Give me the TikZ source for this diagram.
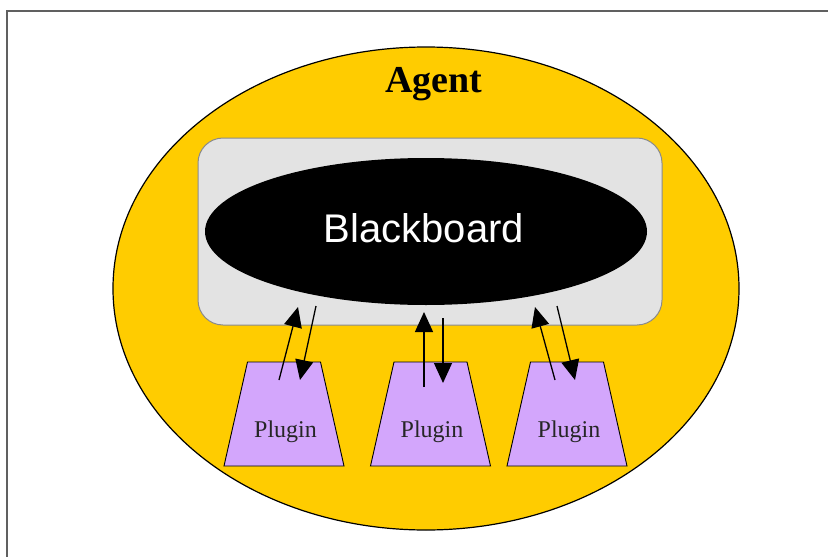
\documentclass[tikz,border=0pt]{standalone}
\usepackage{fontspec}
\setmainfont{Liberation Serif}
\newfontfamily\arialf{Liberation Sans}
\usetikzlibrary{shapes.geometric,arrows.meta}
\definecolor{agentyellow}{HTML}{FFCC00}
\definecolor{boardgray}{HTML}{E3E3E3}
\definecolor{boardedge}{HTML}{8A8A8A}
\definecolor{pluginviolet}{HTML}{D3A6FC}
\definecolor{framegray}{HTML}{606060}
\tikzset{
  pluginshape/.style={fill=pluginviolet, draw=black, line width=0.9pt},
  plugintext/.style={anchor=base, font=\fontsize{24}{28}\selectfont, text=black!85},
  flow/.style={line width=1.3pt, -{Triangle[length=20pt,width=18pt]}},
  pics/plugin/.style={code={
    \path[pluginshape] (-60,52) -- (-36.5,-52) -- (36.5,-52) -- (60,52) -- cycle;
  }}
}
\begin{document}
\begin{tikzpicture}[x=1pt,y=-1pt]
\useasboundingbox (0,0) rectangle (828,557);
\fill[white] (0,0) rectangle (828,557);
\draw[framegray, line width=1.5pt] (7,557) -- (7,11) -- (828,11);
% agent
\node[ellipse, minimum width=626pt, minimum height=483pt, fill=agentyellow, draw=black, line width=1.2pt, inner sep=0pt] (agent) at (426,288.5) {};
\node[anchor=base, font=\bfseries\fontsize{38}{44}\selectfont] (agentlbl) at (434,92) {Agent};
% blackboard area
\node[rectangle, rounded corners=25pt, minimum width=464pt, minimum height=187pt, fill=boardgray, draw=boardedge, line width=1pt] (area) at (430,231.5) {};
\node[ellipse, minimum width=442pt, minimum height=147pt, fill=black, inner sep=0pt] (board) at (426,231.5) {};
\node[anchor=base, text=white, font=\arialf\fontsize{40}{46}\selectfont] (boardlbl) at (424,242) {Blackboard};
% plugins
\pic at (284,414) {plugin};
\pic at (430.5,414) {plugin};
\pic at (567,414) {plugin};
\node[plugintext] (p1) at (285.5,437) {Plugin};
\node[plugintext] (p2) at (432,437) {Plugin};
\node[plugintext] (p3) at (569,437) {Plugin};
% arrow endpoints
\coordinate (p1up0) at (279,380);
\coordinate (p1up1) at (298,307);
\coordinate (p1dn0) at (316,306);
\coordinate (p1dn1) at (300,380);
\coordinate (p2up0) at (424,387);
\coordinate (p2up1) at (424,312);
\coordinate (p2dn0) at (443,318);
\coordinate (p2dn1) at (443,383);
\coordinate (p3up0) at (555,380);
\coordinate (p3up1) at (535,307);
\coordinate (p3dn0) at (557,306);
\coordinate (p3dn1) at (575,380);
\draw[flow] (p1up0) -- (p1up1);
\draw[flow] (p1dn0) -- (p1dn1);
\draw[flow] (p2up0) -- (p2up1);
\draw[flow] (p2dn0) -- (p2dn1);
\draw[flow] (p3up0) -- (p3up1);
\draw[flow] (p3dn0) -- (p3dn1);
\end{tikzpicture}
\end{document}
